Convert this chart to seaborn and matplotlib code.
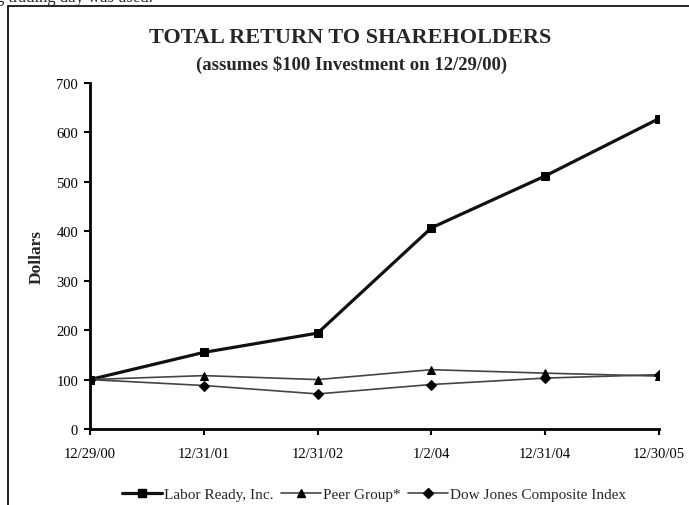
import matplotlib
matplotlib.use("Agg")
import matplotlib.pyplot as plt
import seaborn as sns
import pandas as pd
from matplotlib.lines import Line2D

sns.set_theme(style="white")
plt.rcParams['font.family'] = ['Liberation Serif', 'DejaVu Serif']

dates = ["12/29/00", "12/31/01", "12/31/02", "1/2/04", "12/31/04", "12/30/05"]
labor_ready = [100, 155, 194, 407, 512, 628]
peer_group = [100, 108, 100, 120, 113, 107]
dow_jones = [100, 88, 71, 90, 103, 110]
series_names = ["Labor Ready, Inc.", "Peer Group*", "Dow Jones Composite Index"]

rows = []
for name, vals in zip(series_names, [labor_ready, peer_group, dow_jones]):
    for i, (d, v) in enumerate(zip(dates, vals)):
        rows.append({"pos": i, "date": d, "value": v, "series": name})
df = pd.DataFrame(rows)

W, H = 689, 506
fig = plt.figure(figsize=(W/100, H/100), dpi=100)
ax = fig.add_axes([90/W, 1-430/H, (659-90)/W, (430-84)/H])

styles = {
    "Labor Ready, Inc.": dict(color="#111111", lw=2.3, marker="s", ms=5.5),
    "Peer Group*": dict(color="#444444", lw=1.2, marker="^", ms=6),
    "Dow Jones Composite Index": dict(color="#444444", lw=1.2, marker="D", ms=5),
}
for name in series_names:
    st = styles[name]
    sub = df[df.series == name]
    sns.lineplot(data=sub, x="pos", y="value", ax=ax, color=st["color"], lw=st["lw"],
                 marker=st["marker"], markersize=st["ms"], markeredgecolor="black",
                 markerfacecolor="black", legend=False)

ax.set_xlim(0, len(dates)-1)
ax.set_ylim(0, 700)
ax.set_xticks(range(len(dates)))
ax.set_xticklabels(dates)
ax.set_yticks(range(0, 701, 100))
ax.tick_params(axis="both", direction="out", length=4, width=1.5, color="black",
               labelsize=10.5, colors="black", bottom=True, left=True)
ax.tick_params(axis="x", pad=9)
ax.tick_params(axis="y", pad=4.5)
for s in ["top", "right"]:
    ax.spines[s].set_visible(False)
for s in ["left", "bottom"]:
    ax.spines[s].set_color("black")
    ax.spines[s].set_linewidth(2)
ax.set_xlabel("")
ax.set_ylabel("")
ax.grid(False)

fig.text(37/W, 1-257/H, "Dollars", rotation=90, ha="center", va="center",
         fontsize=12.5, fontweight="bold")
fig.text(350/W, 1-38/H, "TOTAL RETURN TO SHAREHOLDERS", ha="center", va="center",
         fontsize=16, fontweight="bold")
fig.text(352/W, 1-65/H, "(assumes $100 Investment on 12/29/00)", ha="center", va="center",
         fontsize=13.5, fontweight="bold")

handles = [Line2D([0], [0], color=styles[n]["color"], lw=styles[n]["lw"], marker=styles[n]["marker"],
                  markersize=styles[n]["ms"], markerfacecolor="black", markeredgecolor="black")
           for n in series_names]
fig.legend(handles, series_names, loc="center", bbox_to_anchor=(374/W, 1-495/H), ncol=3,
           frameon=False, fontsize=11, handlelength=2.6, handletextpad=0.15, columnspacing=0.5,
           borderaxespad=0, borderpad=0)

# frame around chart
fig.add_artist(Line2D([8/W, 8/W], [0, 1-7/H], color="black", lw=1.2, transform=fig.transFigure))
fig.add_artist(Line2D([8/W, 1], [1-7/H, 1-7/H], color="black", lw=1.2, transform=fig.transFigure))
fig.text(-4/W, 1-1.5/H, "g trading day was used.", ha="left", va="baseline", fontsize=12)

fig.savefig("out.png", dpi=100, facecolor="white")
